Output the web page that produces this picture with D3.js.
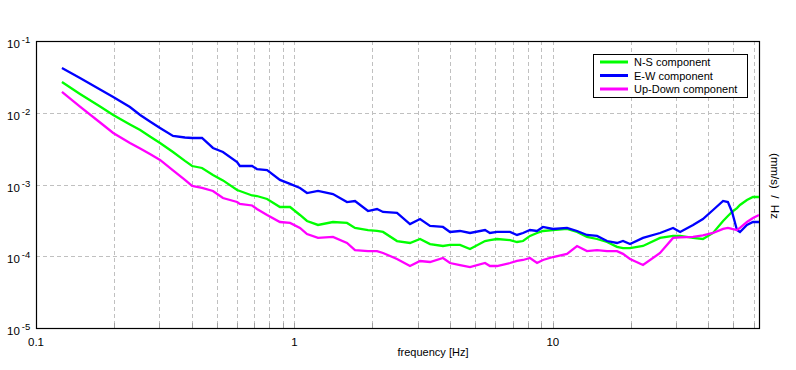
<!DOCTYPE html>
<html><head><meta charset="utf-8">
<script src="https://cdn.jsdelivr.net/npm/d3@7"></script>
<style>body{margin:0;background:#fff;} text{font-family:"Liberation Sans",Arial,sans-serif;}</style>
</head><body><div id="chart"></div>
<script>
const freq = [0.126,0.148,0.177,0.199,0.231,0.253,0.276,0.302,0.339,0.377,0.402,0.439,0.484,0.529,0.600,0.615,0.686,0.716,0.784,0.879,0.962,1.051,1.119,1.234,1.410,1.598,1.716,1.927,2.088,2.203,2.495,2.801,3.064,3.349,3.758,4.00,4.374,4.782,5.466,5.71,6.08,6.83,7.27,7.67,8.16,8.69,9.16,10.02,11.35,12.41,13.56,14.83,16.21,17.72,18.69,19.90,22.34,26.0,29.2,31.1,34.9,38.1,41.7,45.6,47.6,49.4,51.6,53.0,56.4,59.5,62.8];
const ewComponent = [0.042,0.0305,0.0211,0.0166,0.0120,0.0093,0.00755,0.00613,0.00474,0.00452,0.00445,0.00445,0.00323,0.00284,0.00206,0.00181,0.00181,0.00164,0.00159,0.00116,0.00102,0.000894,0.000761,0.000812,0.000737,0.00057,0.000589,0.000427,0.000455,0.000414,0.000401,0.000281,0.00033,0.000264,0.000256,0.000218,0.000225,0.000211,0.000232,0.000211,0.000218,0.000218,0.000198,0.000211,0.000232,0.000225,0.000256,0.00024,0.000248,0.000225,0.000198,0.000192,0.000163,0.000153,0.000163,0.000148,0.00018,0.000211,0.000248,0.000218,0.000273,0.00033,0.000441,0.000589,0.00057,0.000414,0.000232,0.000218,0.000273,0.0003,0.0003];
const nsComponent = [0.0268,0.0183,0.0122,0.0093,0.00686,0.00575,0.00467,0.00379,0.00284,0.00213,0.00181,0.0017,0.00136,0.00114,0.000838,0.000812,0.000703,0.000691,0.000628,0.000486,0.000486,0.000376,0.00031,0.000273,0.0003,0.000291,0.000248,0.000232,0.000225,0.000218,0.000163,0.000153,0.000174,0.000148,0.000139,0.000144,0.000144,0.000126,0.000163,0.000168,0.000174,0.000168,0.000158,0.000163,0.000192,0.000211,0.000225,0.000232,0.00024,0.000218,0.000186,0.000174,0.000158,0.000135,0.00013,0.00013,0.000139,0.00018,0.000192,0.000192,0.00018,0.000174,0.000211,0.00031,0.000364,0.000414,0.00047,0.000518,0.000608,0.00067,0.00067];
const udComponent = [0.0195,0.0122,0.00731,0.00522,0.00379,0.00318,0.00266,0.0022,0.00157,0.00116,0.000953,0.000894,0.000812,0.000648,0.00057,0.000535,0.00051,0.000455,0.000376,0.0003,0.000291,0.000248,0.000204,0.00018,0.000186,0.000153,0.000122,0.000118,0.000118,0.000111,0.0000915,0.0000731,0.0000859,0.0000832,0.0000945,0.0000805,0.0000755,0.0000708,0.0000805,0.0000731,0.0000731,0.0000805,0.0000859,0.0000887,0.0000945,0.0000805,0.0000887,0.0000976,0.000108,0.000139,0.000118,0.000122,0.000118,0.000118,0.000108,0.0000915,0.0000755,0.000111,0.00018,0.000183,0.000186,0.000195,0.000211,0.00024,0.000248,0.00024,0.000232,0.000248,0.0003,0.000341,0.000376];
const seriesNames = ["N-S component","E-W component","Up-Down component"];
const seriesColors = ["#00ff00","#0000ff","#ff00ff"];
const xTickLabels = ["0.1","1","10"];
const yTickExps = ["-1","-2","-3","-4","-5"];
const xTitle = "frequency [Hz]";
const yTitle = "(mm/s)  /  Hz";

const W=796,H=370, L=36,R=759,T=41,B=328;
const svg=d3.select("#chart").append("svg").attr("width",W).attr("height",H);
const x=d3.scaleLog().domain([0.1,62.8]).range([L,R]);
const y=d3.scaleLog().domain([1e-5,1e-1]).range([B,T]);

// grid
const gridX=[];
[0.1,1,10].forEach(d=>{for(let k=1;k<=9;k++){const v=d*k; if(v>0.1 && v<62.8) gridX.push(v);}});
svg.append("g").selectAll("line").data(gridX).join("line")
 .attr("x1",d=>Math.round(x(d))+0.5).attr("x2",d=>Math.round(x(d))+0.5).attr("y1",T).attr("y2",B)
 .attr("stroke","#c0c0c0").attr("stroke-dasharray","4,3");
svg.append("g").selectAll("line").data([1e-2,1e-3,1e-4]).join("line")
 .attr("x1",L).attr("x2",R).attr("y1",d=>Math.round(y(d))+0.5).attr("y2",d=>Math.round(y(d))+0.5)
 .attr("stroke","#c0c0c0").attr("stroke-dasharray","4,3");
// minor ticks bottom
svg.append("g").selectAll("line").data(gridX).join("line")
 .attr("x1",d=>Math.round(x(d))+0.5).attr("x2",d=>Math.round(x(d))+0.5).attr("y1",B-5).attr("y2",B)
 .attr("stroke","#a0a0a0");

// frame
svg.append("rect").attr("x",L+0.5).attr("y",T+0.5).attr("width",R-L).attr("height",B-T)
 .attr("fill","none").attr("stroke","#000").attr("stroke-width",1.2);

// series
const vals=[nsComponent,ewComponent,udComponent];
const line=d3.line().x(d=>x(d[0])).y(d=>y(d[1]));
svg.append("clipPath").attr("id","c").append("rect").attr("x",L).attr("y",T).attr("width",R-L).attr("height",B-T);
vals.forEach((v,i)=>{
  svg.append("path").attr("d",line(freq.map((f,j)=>[f,v[j]]))).attr("fill","none")
   .attr("stroke",seriesColors[i]).attr("stroke-width",2.3).attr("clip-path","url(#c)");
});

// x tick labels
[0.1,1,10].forEach((v,i)=>{
  svg.append("text").attr("x",x(v)).attr("y",346).attr("text-anchor","middle").attr("font-size",11.5).text(xTickLabels[i]);
});
// y tick labels
[1e-1,1e-2,1e-3,1e-4,1e-5].forEach((v,i)=>{
  const t=svg.append("text").attr("x",7).attr("y",y(v)+7).attr("font-size",11.5);
  t.append("tspan").text("10");
  t.append("tspan").attr("dx",2).attr("dy",-5).attr("font-size",9.5).text(yTickExps[i]);
});
svg.append("text").attr("x",433).attr("y",356).attr("text-anchor","middle").attr("font-size",11).text(xTitle);
svg.append("text").attr("transform","translate(771,186) rotate(90)").attr("text-anchor","middle")
 .attr("font-size",11.5).style("white-space","pre").text(yTitle);

// legend
svg.append("rect").attr("x",593.5).attr("y",54.5).attr("width",154).attr("height",43).attr("fill","#fff").attr("stroke","#000");
seriesNames.forEach((n,i)=>{
  const yy=62+i*13.5;
  svg.append("line").attr("x1",600).attr("x2",628).attr("y1",yy).attr("y2",yy).attr("stroke",seriesColors[i]).attr("stroke-width",3);
  svg.append("text").attr("x",634).attr("y",yy+4).attr("font-size",11).text(n);
});
</script></body></html>
